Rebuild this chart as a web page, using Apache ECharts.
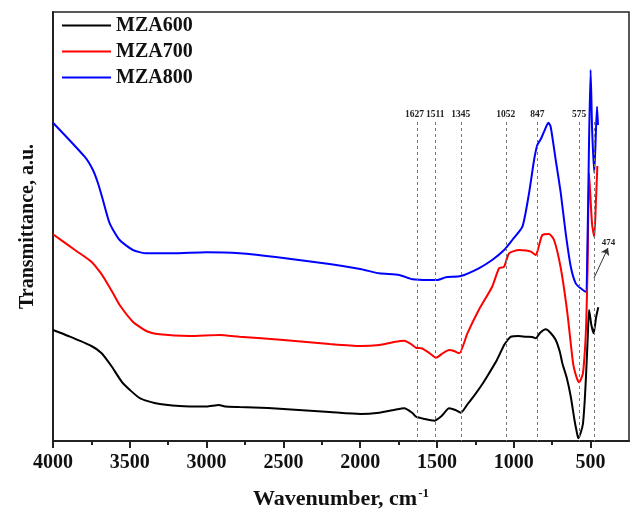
<!DOCTYPE html>
<html>
<head>
<meta charset="utf-8">
<title>FTIR spectra</title>
<script src="https://cdn.jsdelivr.net/npm/echarts@6/dist/echarts.min.js"></script>
<style>
  html, body { margin: 0; padding: 0; background: #fff; }
  #chart { width: 632px; height: 518px; }
</style>
</head>
<body>
<div id="chart"></div>
<script>
// FTIR transmittance (arbitrary units, curves stacked) vs wavenumber (cm-1)
const wn600 = [4000,3900,3750,3685,3620,3546,3436,3339,3176,3000,2920,2880,2786,2600,2400,2200,2000,1876,1780,1713,1660,1637,1580,1518,1470,1421,1380,1345,1300,1247,1200,1161,1110,1063,1040,1020,970,922,880,857,830,792,760,727,700,684,655,629,605,590,580,565,550,538,528,518,510,495,480,465,450];
const t600  = [111,105,95,88,75,58,43,38,35,34.5,36,34.5,34,33,31,29,27,28.3,31,32.7,28,24.3,22,20.3,25,32.7,31,28.3,37,47.7,58,67.7,81,96,101,104.3,105,104.3,104,102.7,108,111.7,108,101,89,77.7,63,44.3,21,9,2.7,8,17,41,71,106,131,116,107.7,123,133.7];

const wn700 = [4000,3850,3750,3696,3653,3610,3566,3480,3393,3306,3111,2916,2786,2500,2200,2000,1876,1780,1713,1670,1637,1600,1550,1507,1460,1421,1390,1355,1302,1228,1141,1096,1063,1031,966,920,889,857,835,814,771,738,694,651,614,590,575,550,535,528,520,510,500,490,476,465,456];
const t700  = [206.7,190.3,179.3,169.3,159.3,148,136,119.3,110,106.7,105,106,104.3,101,97,95,96,99,100.3,97,93.3,92.7,88,83.3,88,91,90,87.7,107.7,131,154.3,172.7,174.3,187.7,191,190.5,189.3,186,196,206,207,201,172.7,127.7,77.7,63,58.7,67.7,96,121,171,267.7,241,216,204.3,241,275];

const wn800 = [4000,3794,3740,3707,3675,3631,3566,3480,3393,3220,3003,2786,2500,2200,2000,1876,1746,1659,1551,1500,1442,1345,1228,1141,1063,1010,944,901,868,847,825,803,775,760,727,694,662,629,597,564,532,520,510,500,490,476,465,458,452];
const t800  = [318.3,284.3,271,257.7,241,217.7,201,191,187.7,187.7,188.7,187.7,183,177,172,167.7,166,161.7,161,161,163.7,165,172.7,181,191,201,214.3,247.7,281,296,301.7,309.3,318.3,314.3,281,247.7,207.7,174.3,157.7,152.7,149.3,201,301,371,311,268,311,334.3,316];

// marked absorption bands
const bands = [1627, 1511, 1345, 1052, 847, 575];
const band474 = 474;

const names = ['MZA600', 'MZA700', 'MZA800'];
const colors = ['#000000', '#ff0000', '#0000ff'];
const xTicksMajor = [500, 1000, 1500, 2000, 2500, 3000, 3500, 4000];
const xTicksMinor = [750, 1250, 1750, 2250, 2750, 3250, 3750];

const FONT = '"Liberation Serif", "Times New Roman", serif';
const pairs = (xs, ys) => xs.map((x, i) => [x, ys[i]]);

const guideTop = 319;
const bandLines = bands.map(b => [
  { coord: [b, guideTop], label: { formatter: String(b), offset: b === 1627 ? [-3, 0] : [0, 0] } },
  { coord: [b, 0] }
]);
bandLines.push([
  { coord: [band474, guideTop], label: { show: false } },
  { coord: [band474, 0] }
]);

const chart = echarts.init(document.getElementById('chart'), null, { renderer: 'canvas' });
chart.setOption({
  animation: false,
  backgroundColor: '#fff',
  textStyle: { fontFamily: FONT },
  grid: { left: 53, right: 3, top: 12, bottom: 77, show: true, borderColor: '#222', borderWidth: 1.5 },
  legend: {
    data: names,
    orient: 'vertical',
    left: 62, top: 14, padding: 0,
    icon: 'rect',
    itemWidth: 49, itemHeight: 2, itemGap: 3,
    textStyle: { fontSize: 20, fontWeight: 'bold', fontFamily: FONT, color: '#111', lineHeight: 20, padding: [3, 0, 0, 0] }
  },
  xAxis: [{
    type: 'value', min: 250, max: 4000, inverse: true,
    axisLine: { show: true, onZero: false, lineStyle: { color: '#222', width: 2 } },
    axisTick: { show: true, length: 7, customValues: xTicksMajor, lineStyle: { color: '#222', width: 2 } },
    axisLabel: { customValues: xTicksMajor, formatter: v => String(v), fontSize: 20, fontWeight: 'bold', fontFamily: FONT, color: '#111', margin: 12 },
    splitLine: { show: false },
    name: '{a|Wavenumber, cm}{s|-1}',
    nameLocation: 'middle', nameGap: 46,
    nameTextStyle: {
      rich: {
        a: { fontSize: 22, fontWeight: 'bold', fontFamily: FONT, color: '#111' },
        s: { fontSize: 13, fontWeight: 'bold', fontFamily: FONT, color: '#111', verticalAlign: 'bottom', padding: [0, 0, 12, 1] }
      }
    }
  }, {
    type: 'value', min: 250, max: 4000, inverse: true, position: 'bottom',
    axisLine: { show: false, onZero: false },
    axisTick: { show: true, length: 4, customValues: xTicksMinor, lineStyle: { color: '#222', width: 2 } },
    axisLabel: { show: false },
    splitLine: { show: false }
  }],
  yAxis: {
    type: 'value', min: 0, max: 429,
    axisLine: { show: true, onZero: false, lineStyle: { color: '#222', width: 2 } },
    axisTick: { show: false },
    axisLabel: { show: false },
    splitLine: { show: false },
    name: 'Transmittance, a.u.',
    nameLocation: 'middle', nameGap: 15,
    nameTextStyle: { fontSize: 20, fontWeight: 'bold', fontFamily: FONT, color: '#111' }
  },
  series: [
    {
      name: 'bands', type: 'line', data: [], silent: true, z: 1,
      markLine: {
        silent: true, symbol: ['none', 'none'],
        lineStyle: { color: '#777', width: 1, type: [3, 3] },
        label: { show: true, position: 'start', distance: 2, fontSize: 9.5, fontWeight: 'bold', fontFamily: FONT, color: '#222' },
        emphasis: { disabled: true },
        data: bandLines
      }
    },
    {
      name: 'arrow', type: 'line', data: [], silent: true, z: 1,
      markLine: {
        silent: true, symbol: ['none', 'arrow'], symbolSize: 7,
        lineStyle: { color: '#333', width: 1, type: 'solid' },
        label: { show: true, position: 'end', distance: 1, fontSize: 9, fontWeight: 'bold', fontFamily: FONT, color: '#222', formatter: String(band474) },
        emphasis: { disabled: true },
        data: [[{ coord: [478, 163] }, { coord: [387, 193] }]]
      }
    },
    ...[[wn600, t600], [wn700, t700], [wn800, t800]].map(([xs, ys], i) => ({
      name: names[i], type: 'line', data: pairs(xs, ys),
      symbol: 'none', showSymbol: false, smooth: 0.2, z: 3,
      color: colors[i],
      lineStyle: { color: colors[i], width: 2 }
    }))
  ]
});
</script>
</body>
</html>
